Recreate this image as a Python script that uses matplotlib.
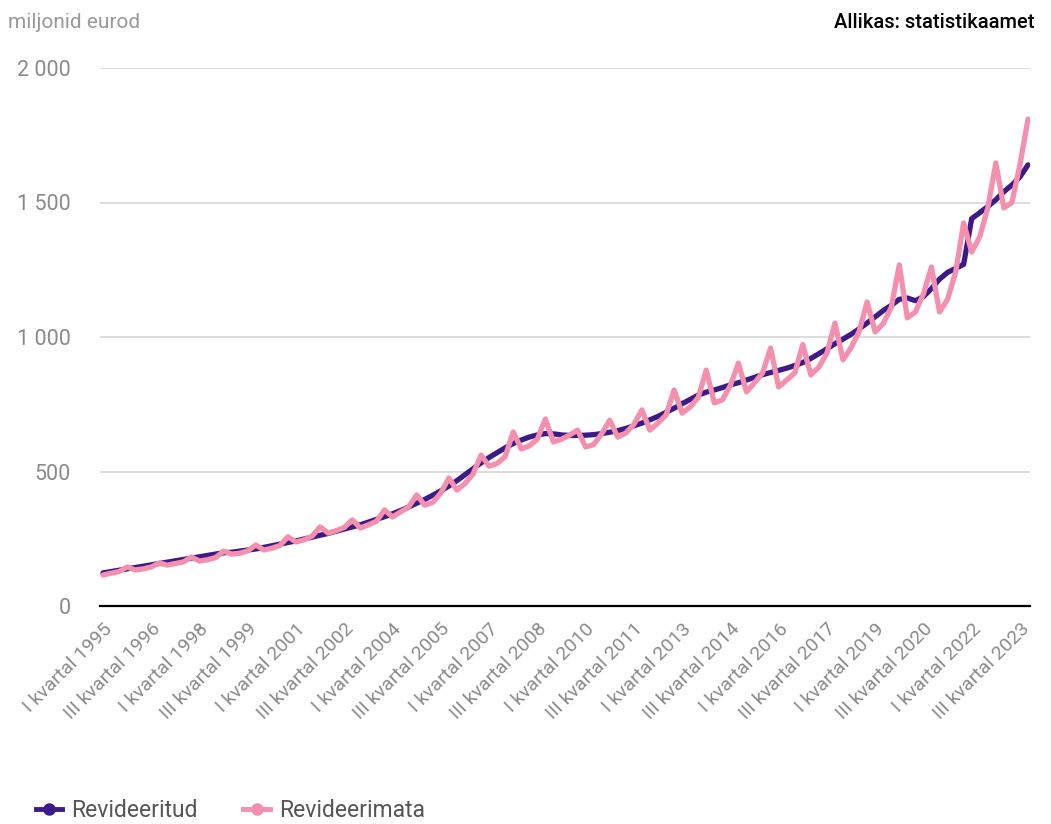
import matplotlib.pyplot as plt
from matplotlib.lines import Line2D

plt.rcParams['font.family'] = ['Roboto', 'DejaVu Sans']

years = list(range(1995, 2024))
quarter_names = ['I', 'II', 'III', 'IV']

# revideeritud (quarterly, 1995 Q1 .. 2023 Q4)
revised = [
    123, 128, 133, 138,
    143, 148, 153, 158,
    163, 168, 173, 178,
    183, 188, 193, 198,
    200, 204, 208, 212,
    218, 224, 230, 236,
    242, 249, 256, 263,
    270, 278, 286, 294,
    302, 312, 322, 332,
    343, 355, 368, 382,
    396, 412, 428, 446,
    466, 488, 510, 532,
    552, 570, 588, 604,
    617, 628, 636, 641,
    640, 636, 634, 634,
    635, 637, 641, 646,
    652, 660, 670, 680,
    692, 705, 720, 735,
    752, 768, 784, 795,
    803, 812, 822, 830,
    840, 850, 860, 868,
    876, 884, 894, 905,
    920, 938, 956, 975,
    992, 1010, 1030, 1052,
    1075, 1098, 1118, 1140,
    1145, 1135, 1150, 1180,
    1215, 1240, 1255, 1270,
    1440, 1462, 1485, 1510,
    1540, 1565, 1595, 1640,
]

# revideerimata
unrevised = [
    115, 122, 128, 145,
    134, 138, 145, 160,
    152, 158, 164, 182,
    167, 172, 180, 204,
    193, 196, 205, 227,
    208, 215, 225, 257,
    238, 246, 260, 294,
    271, 280, 292, 320,
    290, 302, 315, 357,
    331, 350, 368, 413,
    375, 385, 420, 476,
    431, 455, 490, 561,
    520, 530, 555, 647,
    584, 595, 620, 695,
    610, 620, 635, 654,
    591, 600, 640, 691,
    628, 643, 675, 729,
    654, 680, 710, 803,
    717, 740, 775, 877,
    755, 766, 820, 903,
    796, 830, 866, 959,
    814, 840, 866, 972,
    859, 888, 940, 1052,
    915, 960, 1020, 1130,
    1019, 1050, 1110, 1268,
    1071, 1093, 1160, 1260,
    1093, 1140, 1240, 1424,
    1316, 1372, 1480, 1647,
    1480, 1500, 1640, 1810,
]

labels = [f'{q} kvartal {y}' for y in years for q in quarter_names]
x = list(range(len(labels)))

purple = '#3c1a87'
pink = '#f48fae'
grey = '#8a8a8a'

fig = plt.figure(figsize=(10.51, 8.24), dpi=100)
ax = fig.add_axes([100 / 1051, 218 / 824, 930 / 1051, 538 / 824])

ax.plot(x, revised, color=purple, lw=3.8, solid_capstyle='round', solid_joinstyle='round', zorder=3)
ax.plot(x, unrevised, color=pink, lw=3.8, solid_capstyle='round', solid_joinstyle='round', zorder=4)

ax.set_xlim(-0.37, len(x) - 1 + 0.25)
ax.set_ylim(0, 2000)
ax.set_yticks([0, 500, 1000, 1500, 2000])
ax.set_yticklabels(['0', '500', '1 000', '1 500', '2 000'])
ax.yaxis.grid(True, color='#dadada', lw=1.3)
ax.set_axisbelow(True)

ticks = x[::6]
ax.set_xticks(ticks)
ax.set_xticklabels([labels[i] for i in ticks], rotation=45, ha='right',
                   rotation_mode='anchor')

for s in ['top', 'right', 'left']:
    ax.spines[s].set_visible(False)
ax.spines['bottom'].set_color('black')
ax.spines['bottom'].set_linewidth(1.6)
ax.spines['bottom'].set_zorder(5)

ax.tick_params(axis='y', length=0, pad=21, labelsize=15.5, labelcolor=grey)
ax.tick_params(axis='x', length=0, pad=10, labelsize=14, labelcolor=grey)

fig.text(8 / 1051, 1 - 22 / 824, 'miljonid eurod', fontsize=15, color='#999999', va='center')
fig.text(1035 / 1051, 1 - 22 / 824, 'Allikas: statistikaamet', fontsize=14.5, color='black',
         va='center', ha='right', fontweight='medium')

handles = [
    Line2D([], [], color=purple, lw=3.5, marker='o', markersize=8),
    Line2D([], [], color=pink, lw=3.5, marker='o', markersize=8),
]
fig.legend(handles, ['Revideeritud', 'Revideerimata'], loc='lower left',
           bbox_to_anchor=(15 / 1051, -19 / 824), ncol=2, frameon=False, fontsize=16.5,
           labelcolor='#555555', handlelength=1.15, handletextpad=0.4, columnspacing=2.0)

fig.savefig('out.png', dpi=100)
